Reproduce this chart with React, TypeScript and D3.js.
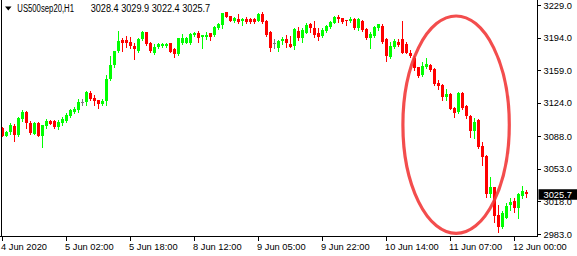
import React from 'react';
import * as d3 from 'd3';

const symbolLabel = 'US500sep20,H1';

const opens = [
  3096.6, 3088.6, 3092.3, 3099.0, 3089.4, 3106.3, 3114.1, 3102.6, 3090.4, 3102.6,
  3088.5, 3099.2, 3104.7, 3104.7, 3097.6, 3101.9, 3104.2, 3109.4, 3114.1, 3116.0,
  3125.3, 3125.3, 3134.7, 3129.1, 3127.0, 3123.0, 3125.6, 3149.4, 3164.2, 3179.1,
  3191.6, 3191.4, 3189.6, 3185.3, 3179.6, 3192.2, 3199.7, 3188.5, 3177.1, 3184.2,
  3185.0, 3185.3, 3187.9, 3181.4, 3176.0, 3187.9, 3188.5, 3187.9, 3196.8, 3198.9,
  3195.0, 3195.0, 3198.6, 3196.8, 3204.0, 3207.5, 3221.2, 3217.2, 3212.1, 3214.0,
  3212.1, 3214.0, 3214.0, 3213.8, 3212.1, 3219.3, 3212.1, 3199.7, 3187.9, 3183.1,
  3190.3, 3192.5, 3187.1, 3185.0, 3201.1, 3193.2, 3199.2, 3208.3, 3204.0, 3199.2,
  3196.0, 3201.1, 3205.0, 3210.0, 3216.4, 3214.7, 3212.9, 3212.1, 3213.6, 3204.0,
  3212.1, 3203.2, 3193.9, 3196.0, 3204.0, 3206.8, 3192.2, 3172.8, 3184.2, 3189.6,
  3192.2, 3187.1, 3177.8, 3171.7, 3162.1, 3153.8, 3162.7, 3164.6, 3160.2, 3145.5,
  3143.1, 3130.5, 3133.1, 3118.0, 3114.4, 3134.8, 3120.8, 3109.8, 3094.0, 3105.5,
  3077.5, 3066.8, 3026.0, 3033.8, 3003.4, 2990.9, 3000.5, 3014.2, 3018.5, 3010.6,
  3024.2, 3028.4,
];
const highs = [
  3097.6, 3094.0, 3102.2, 3100.9, 3109.0, 3116.2, 3115.5, 3104.1, 3103.3, 3103.3,
  3100.1, 3106.5, 3105.5, 3105.8, 3105.5, 3108.2, 3113.2, 3117.1, 3119.7, 3127.5,
  3128.0, 3136.9, 3136.3, 3132.1, 3127.3, 3128.0, 3154.3, 3174.4, 3180.1, 3201.1,
  3193.6, 3196.0, 3195.0, 3187.9, 3193.9, 3201.1, 3200.3, 3189.6, 3186.8, 3188.5,
  3188.5, 3187.9, 3188.5, 3182.5, 3193.9, 3197.5, 3194.1, 3198.6, 3199.7, 3201.1,
  3197.0, 3200.3, 3199.2, 3206.4, 3209.3, 3220.7, 3221.5, 3217.7, 3215.8, 3219.0,
  3214.7, 3215.8, 3214.7, 3214.7, 3220.1, 3221.2, 3212.9, 3201.4, 3192.2, 3191.4,
  3195.0, 3196.8, 3195.7, 3204.0, 3205.0, 3204.0, 3209.3, 3209.3, 3211.8, 3204.0,
  3204.0, 3207.5, 3212.1, 3217.2, 3218.3, 3214.9, 3213.0, 3215.8, 3214.7, 3214.7,
  3212.9, 3204.0, 3199.7, 3206.4, 3208.6, 3208.6, 3193.9, 3189.6, 3192.5, 3192.2,
  3212.1, 3189.3, 3180.7, 3174.2, 3162.7, 3168.1, 3171.7, 3165.3, 3161.0, 3148.4,
  3143.8, 3138.8, 3134.2, 3119.8, 3135.9, 3135.2, 3121.6, 3110.8, 3107.9, 3106.2,
  3081.5, 3067.5, 3044.6, 3034.0, 3014.2, 3007.7, 3016.0, 3021.4, 3021.4, 3026.7,
  3035.0, 3029.9,
];
const lows = [
  3088.3, 3088.3, 3090.1, 3082.9, 3088.3, 3104.2, 3097.2, 3090.8, 3090.4, 3088.3,
  3076.8, 3096.9, 3100.9, 3097.2, 3095.8, 3100.3, 3103.0, 3108.4, 3112.7, 3114.4,
  3122.1, 3121.8, 3126.6, 3122.0, 3118.7, 3121.6, 3121.6, 3148.1, 3161.9, 3178.2,
  3180.1, 3184.2, 3182.5, 3171.0, 3178.8, 3191.4, 3186.0, 3178.8, 3176.4, 3182.5,
  3183.6, 3184.2, 3178.2, 3173.3, 3175.2, 3187.1, 3187.9, 3187.1, 3195.7, 3189.2,
  3183.1, 3192.5, 3191.4, 3195.7, 3203.2, 3204.0, 3215.6, 3211.8, 3211.1, 3209.3,
  3207.5, 3209.3, 3210.0, 3210.0, 3211.8, 3209.3, 3196.0, 3179.6, 3182.5, 3179.6,
  3186.8, 3184.2, 3183.9, 3181.4, 3191.4, 3189.6, 3198.6, 3199.7, 3195.0, 3191.4,
  3194.3, 3199.7, 3204.0, 3209.3, 3211.1, 3209.3, 3207.5, 3211.1, 3203.2, 3202.1,
  3201.4, 3192.2, 3183.1, 3195.0, 3202.1, 3188.5, 3169.2, 3172.4, 3183.1, 3185.3,
  3177.1, 3176.9, 3173.1, 3159.2, 3152.0, 3153.1, 3161.0, 3158.4, 3143.1, 3138.4,
  3127.0, 3127.0, 3116.9, 3109.0, 3112.7, 3117.3, 3107.3, 3087.5, 3086.5, 3075.1,
  3057.1, 3023.1, 3023.1, 2996.2, 2985.5, 2989.8, 2999.9, 3008.8, 3007.0, 3000.5,
  3022.1, 3022.4,
];
const closes = [
  3088.6, 3092.6, 3099.9, 3089.4, 3107.9, 3114.4, 3102.2, 3091.2, 3102.6, 3088.5,
  3099.9, 3104.7, 3101.4, 3098.3, 3103.6, 3106.2, 3110.3, 3115.7, 3117.8, 3125.1,
  3125.3, 3135.5, 3128.3, 3126.1, 3122.7, 3126.2, 3149.5, 3164.2, 3179.3, 3190.3,
  3188.5, 3188.5, 3185.3, 3181.7, 3192.8, 3200.3, 3186.8, 3179.6, 3184.2, 3186.8,
  3187.1, 3187.1, 3178.8, 3176.4, 3193.2, 3193.9, 3193.2, 3197.5, 3198.6, 3193.6,
  3196.8, 3196.8, 3195.0, 3205.7, 3208.6, 3220.1, 3216.4, 3212.1, 3214.7, 3211.1,
  3213.6, 3211.1, 3210.7, 3210.9, 3219.3, 3211.1, 3196.8, 3183.1, 3187.9, 3190.3,
  3192.5, 3187.9, 3184.2, 3202.9, 3193.9, 3202.1, 3207.5, 3204.6, 3196.8, 3194.3,
  3202.1, 3206.8, 3211.1, 3215.8, 3213.6, 3211.1, 3211.8, 3213.6, 3204.0, 3213.6,
  3202.1, 3193.2, 3197.5, 3205.0, 3208.3, 3189.6, 3174.2, 3185.0, 3190.3, 3186.0,
  3177.8, 3177.8, 3174.2, 3161.0, 3153.1, 3163.5, 3165.6, 3159.2, 3143.8, 3142.3,
  3130.5, 3133.1, 3117.3, 3112.7, 3134.8, 3118.0, 3110.1, 3094.0, 3103.6, 3076.1,
  3066.0, 3026.0, 3033.8, 3002.7, 2990.9, 3005.2, 3013.4, 3017.7, 3010.6, 3026.0,
  3029.2, 3025.7,
];

const xTickIndex = [0, 16, 32, 48, 64, 80, 96, 112, 128];
const xTickLabels = [
  '4 Jun 2020', '5 Jun 02:00', '5 Jun 18:00', '8 Jun 12:00', '9 Jun 05:00',
  '9 Jun 22:00', '10 Jun 14:00', '11 Jun 07:00', '12 Jun 00:00',
];
const yTickValues = [3229.0, 3194.0, 3159.0, 3124.0, 3088.0, 3053.0, 3018.0, 2983.0];

// highlight ellipse, in data terms: bar index / price centre and half extents
const highlightCenter = [113.4, 3100.4];
const highlightHalf = [13.3, 116.8];

const FONT = "'Liberation Sans', Arial, sans-serif";
const UP = '#00ff00';
const DOWN = '#ff0000';
const DOJI = '#7a7a7a';

export default function App() {
  const W = 577;
  const H = 256;
  const n = opens.length;
  const x = d3.scaleLinear().domain([0, n - 1]).range([2.5, 2.5 + 4 * (n - 1)]);
  const y = d3.scaleLinear().domain([2983, 3229]).range([234, 5]);
  const axisX = 537;
  const axisY = 236;
  const last = n - 1;
  const lastPrice = closes[last];
  const fmt = d3.format('.1f');

  const candles = opens.map((o, i) => {
    const c = closes[i];
    const cx = x(i);
    const color = c > o ? UP : c < o ? DOWN : DOJI;
    const top = Math.round(y(Math.max(o, c)));
    const bot = Math.round(y(Math.min(o, c)));
    const hy = Math.round(y(highs[i]));
    const ly = Math.round(y(lows[i]));
    return (
      <g key={i} fill={color}>
        <rect x={cx - 0.5} y={hy} width={1} height={Math.max(1, ly - hy + 1)} />
        <rect x={cx - 1.5} y={top} width={3} height={Math.max(1, bot - top)} />
      </g>
    );
  });

  const ex = x(highlightCenter[0]);
  const ey = y(highlightCenter[1]);
  const erx = x(highlightCenter[0] + highlightHalf[0]) - ex;
  const ery = y(highlightCenter[1] - highlightHalf[1]) - ey;

  const ohlcText = [opens[last], highs[last], lows[last], closes[last]].map(fmt).join(' ');

  return (
    <svg
      width={W}
      height={H}
      viewBox={`0 0 ${W} ${H}`}
      style={{ position: 'absolute', left: 0, top: 0, background: '#fff' }}
      fontFamily={FONT}
    >
      <rect x={0} y={0} width={W} height={H} fill="#fff" />
      <g shapeRendering="crispEdges">{candles}</g>

      <ellipse
        cx={ex}
        cy={ey}
        rx={erx}
        ry={ery}
        fill="none"
        stroke="#f23a3a"
        strokeOpacity={0.9}
        strokeWidth={3.2}
      />

      <g shapeRendering="crispEdges" fill="#000">
        <rect x={1} y={0} width={1} height={axisY + 1} />
        <rect x={0} y={axisY} width={axisX + 1} height={1} />
        <rect x={axisX} y={0} width={1} height={axisY + 1} />
        {yTickValues.map((v) => (
          <rect key={v} x={axisX + 1} y={Math.round(y(v))} width={3} height={1} />
        ))}
        {xTickIndex.map((i) => (
          <rect key={i} x={x(i) - 0.5} y={axisY + 1} width={1} height={4} />
        ))}
      </g>

      <g fontSize={9.3} fill="#000">
        {yTickValues.map((v) => (
          <text key={v} x={543.5} y={y(v) + 3.5}>
            {fmt(v)}
          </text>
        ))}
        {xTickIndex.map((i, k) => (
          <text key={i} x={x(i) - 1.5} y={250}>
            {xTickLabels[k]}
          </text>
        ))}
      </g>

      <rect x={538.5} y={y(lastPrice) - 5} width={W - 538.5} height={10.5} fill="#000" />
      <text x={543.5} y={y(lastPrice) + 3.6} fontSize={9.3} fill="#fff">
        {fmt(lastPrice)}
      </text>

      <polygon points="5,6.5 11.5,6.5 8.25,10.5" fill="#000" />
      <text x={17.3} y={12} fontSize={10} fill="#000" textLength={56.7} lengthAdjust="spacingAndGlyphs">
        {symbolLabel}
      </text>
      <text x={90.7} y={12} fontSize={10} fill="#000" textLength={119.5} lengthAdjust="spacingAndGlyphs">
        {ohlcText}
      </text>
    </svg>
  );
}
